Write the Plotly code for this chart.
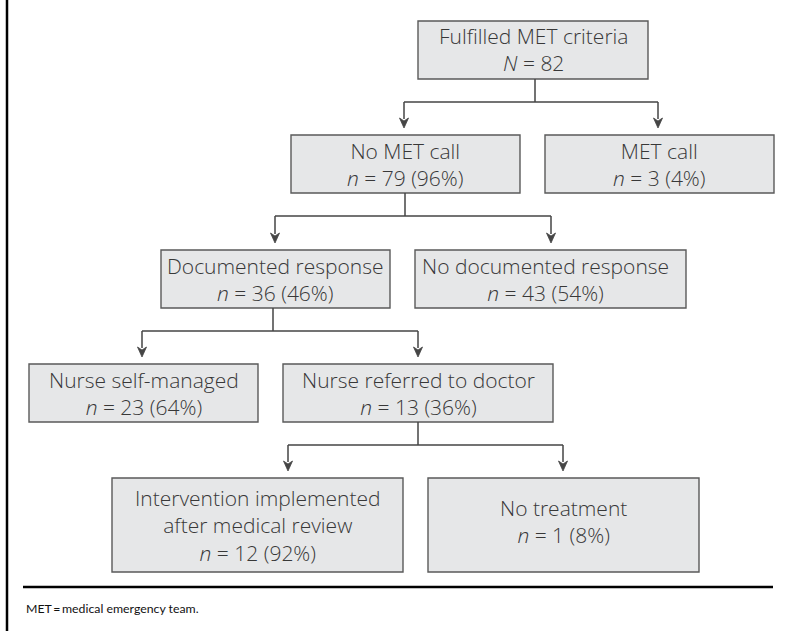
import plotly.graph_objects as go

# ---------------- data ----------------
node_titles = [
    "Fulfilled MET criteria",
    "No MET call",
    "MET call",
    "Documented response",
    "No documented response",
    "Nurse self-managed",
    "Nurse referred to doctor",
    "Intervention implemented<br>after medical review",
    "No treatment",
]
node_symbol = ["N", "n", "n", "n", "n", "n", "n", "n", "n"]
node_n = [82, 79, 3, 36, 43, 23, 13, 12, 1]
node_pct = [None, 96, 4, 46, 54, 64, 36, 92, 8]
tree = {0: [1, 2], 1: [3, 4], 3: [5, 6], 6: [7, 8]}
footnote = "MET\u2009=\u2009medical emergency team."

# ---------------- layout geometry (pixel units) ----------------
W, H = 789, 631
box_x0 = [418, 291, 545, 161, 415, 29, 283, 112, 428]
box_x1 = [648, 520, 774, 390, 686, 258, 553, 403, 699]
box_y0 = [21, 135, 135, 250, 250, 364, 364, 478, 478]
box_y1 = [79, 193, 193, 308, 308, 422, 422, 572, 572]
text_dx = [0, 0, 0, 0, -5, 0, 0, 0, 0]
text_dy = [-0.5, 0, 0, 0, 0, 0, 0, 0.5, -4]
stem_x = {0: 535, 1: 405, 3: 273, 6: 418}
bar_y = {0: 102, 1: 216, 3: 331, 6: 445}
drop_x = {1: 404, 2: 658, 3: 275, 4: 551, 5: 142, 6: 418, 7: 288, 8: 563}
ARROW_GAP = 7
HEAD_H, HEAD_W = 10, 9

BOX_FILL = "#e6e7e8"
BOX_LINE = "#5a5a5a"
LINE_COL = "#454545"
TEXT_COL = "#383838"
FONT = "Open Sans"

fig = go.Figure()
fig.add_trace(go.Scatter(x=[0, W], y=[0, H], mode="markers",
                         marker=dict(opacity=0), hoverinfo="skip", showlegend=False))

shapes = []
annotations = []

# boxes + texts
for i, title in enumerate(node_titles):
    shapes.append(dict(type="rect", xref="x", yref="y",
                       x0=box_x0[i], x1=box_x1[i], y0=box_y0[i], y1=box_y1[i],
                       fillcolor=BOX_FILL, line=dict(color=BOX_LINE, width=1.4),
                       layer="below"))
    stat = f"<i>{node_symbol[i]}</i> = {node_n[i]}"
    if node_pct[i] is not None:
        stat += f" ({node_pct[i]}%)"
    annotations.append(dict(
        x=(box_x0[i] + box_x1[i]) / 2 + text_dx[i],
        y=(box_y0[i] + box_y1[i]) / 2 + text_dy[i],
        xref="x", yref="y", text=f"{title}<br>{stat}", showarrow=False,
        xanchor="center", yanchor="middle", align="center",
        font=dict(family=FONT, size=21, color=TEXT_COL, weight=300)))

# connectors
for parent, children in tree.items():
    sx, by = stem_x[parent], bar_y[parent]
    shapes.append(dict(type="path", xref="x", yref="y",
                       path=f"M {sx},{box_y1[parent]} L {sx},{by}",
                       line=dict(color=LINE_COL, width=1.5)))
    xs = [drop_x[c] for c in children]
    shapes.append(dict(type="path", xref="x", yref="y",
                       path=f"M {min(xs)},{by} L {max(xs)},{by}",
                       line=dict(color=LINE_COL, width=1.5)))
    for c in children:
        dx = drop_x[c]
        tip = box_y0[c] - ARROW_GAP
        shapes.append(dict(type="path", xref="x", yref="y",
                           path=f"M {dx},{by} L {dx},{tip - HEAD_H + 1}",
                           line=dict(color=LINE_COL, width=1.5)))
        shapes.append(dict(type="path", xref="x", yref="y",
                           path=(f"M {dx - HEAD_W / 2},{tip - HEAD_H} "
                                 f"L {dx},{tip - HEAD_H + 3} "
                                 f"L {dx + HEAD_W / 2},{tip - HEAD_H} "
                                 f"L {dx},{tip} Z"),
                           fillcolor=LINE_COL, line=dict(color=LINE_COL, width=0.8)))

# frame lines
shapes.append(dict(type="line", xref="x", yref="y", x0=7, x1=7, y0=-5, y1=H + 5,
                   line=dict(color="black", width=2.5)))
shapes.append(dict(type="line", xref="x", yref="y", x0=23, x1=773, y0=587, y1=587,
                   line=dict(color="black", width=2.5)))

annotations.append(dict(x=24, y=608, xref="x", yref="y", text=footnote,
                        showarrow=False, xanchor="left", yanchor="middle",
                        font=dict(family="Lato", size=12.3, color="#111111")))

fig.update_layout(
    width=W, height=H, autosize=False,
    margin=dict(l=0, r=0, t=0, b=0),
    paper_bgcolor="white", plot_bgcolor="white",
    xaxis=dict(range=[0, W], visible=False, fixedrange=True),
    yaxis=dict(range=[H, 0], visible=False, fixedrange=True),
    shapes=shapes, annotations=annotations,
    showlegend=False,
)

fig.write_html("out.html", config={"displayModeBar": False},
               post_script="document.body.style.margin='0px';document.body.style.padding='0px';")
